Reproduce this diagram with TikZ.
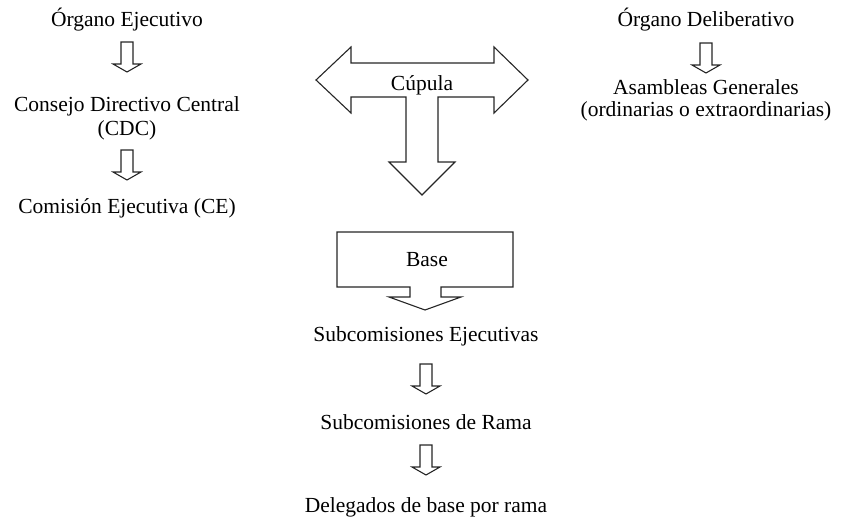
\documentclass[tikz,border=0pt]{standalone}
\usepackage{fontspec}
\setmainfont{Liberation Serif}
\begin{document}
\begin{tikzpicture}[x=1pt,y=-1pt,
  lbl/.style={inner sep=0pt, anchor=base, font=\fontsize{21.5}{24}\selectfont},
  blk/.style={draw=black!85, line width=1.1pt, line join=miter, fill=white},
  pics/downarrow/.style={code={\draw[blk] (-6,0) -- (6,0) -- (6,22) -- (14,22) -- (0,30) -- (-14,22) -- (-6,22) -- cycle;}}]
\useasboundingbox (0,0) rectangle (846,522);

% left column
\node[lbl] (oe) at (127,27) {Órgano Ejecutivo};
\pic at (127,42) {downarrow};
\node[lbl] (cdc1) at (127,111) {Consejo Directivo Central};
\node[lbl] (cdc2) at (127,135) {(CDC)};
\pic at (127,150) {downarrow};
\node[lbl] (ce) at (127,213) {Comisión Ejecutiva (CE)};

% right column
\node[lbl] (od) at (706,27) {Órgano Deliberativo};
\pic at (706,43) {downarrow};
\node[lbl] (ag1) at (706,94) {Asambleas Generales};
\node[lbl] (ag2) at (706,116) {(ordinarias o extraordinarias)};

% cupula
\draw[blk] (316,80) -- (351,47) -- (351,63) -- (494,63) -- (494,47) -- (528,80)
  -- (494,113) -- (494,97) -- (438,97) -- (438,162) -- (455,162) -- (422,195)
  -- (389,162) -- (406,162) -- (406,97) -- (351,97) -- (351,113) -- cycle;
\node[lbl] (cup) at (422,90) {Cúpula};

% base
\draw[blk] (337,232) -- (513,232) -- (513,287) -- (441,287) -- (441,297) -- (461,297)
  -- (425,310) -- (389,297) -- (410,297) -- (410,287) -- (337,287) -- cycle;
\node[lbl] (base) at (427,266) {Base};

% lower chain
\node[lbl] (se) at (426,341) {Subcomisiones Ejecutivas};
\pic at (426,364) {downarrow};
\node[lbl] (sr) at (426,429) {Subcomisiones de Rama};
\pic at (426,445) {downarrow};
\node[lbl] (dl) at (426,512) {Delegados de base por rama};
\end{tikzpicture}
\end{document}
